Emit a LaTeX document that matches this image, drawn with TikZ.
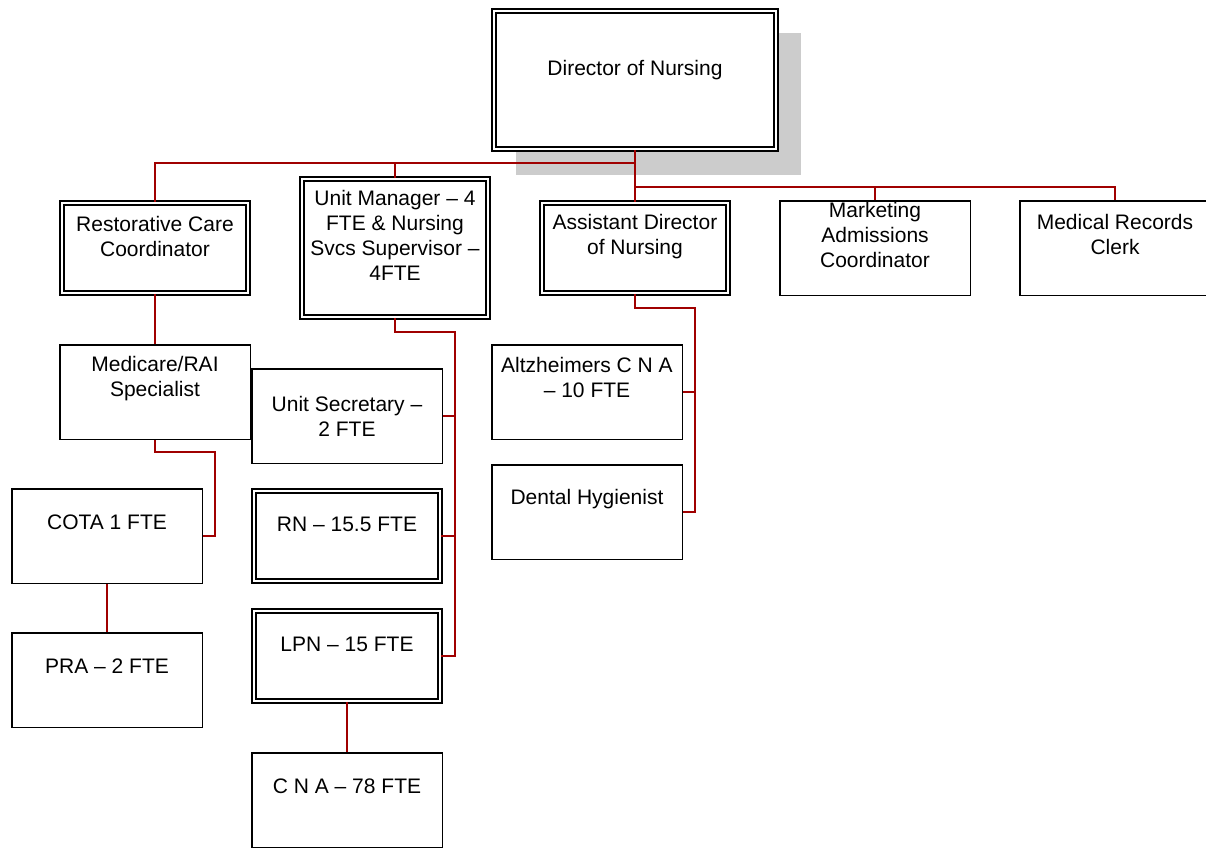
\documentclass[tikz,border=0pt]{standalone}
\usepackage{fontspec}
\setmainfont{Liberation Sans}
\usetikzlibrary{backgrounds}
\definecolor{linkred}{RGB}{160,0,0}
\definecolor{shadowgray}{RGB}{204,204,204}

\begin{document}
\begin{tikzpicture}[x=1pt,y=-1pt,
  every node/.style={font=\fontsize{21}{25}\selectfont},
  unit/.style={draw, line width=1.5pt, fill=white, inner sep=0pt,
    minimum width=190.5pt, minimum height=94.5pt},
  dunit/.style={unit, line width=1.7pt, double=white, double distance=2.6pt,
    minimum width=186pt, minimum height=90pt},
  txt/.style={align=center, inner sep=0pt},
  link/.style={draw=linkred, line width=1.5pt}]
\useasboundingbox (0,0) rectangle (1206,848);

% top level
\node[dunit, minimum width=282pt, minimum height=138pt] (dir) at (635,80) {};
\node[txt] (dirT) at ([yshift=-60pt]dir.north) {Director of Nursing};
\begin{scope}[on background layer]
\fill[shadowgray] ([shift={(23,23)}]dir.north west) rectangle ([shift={(24,25)}]dir.south east);
\end{scope}

% second row
\node[dunit] (rcc) at (155,248) {};
\node[txt] (rccT) at ([yshift=-34.5pt]rcc.north) {Restorative Care\\Coordinator};
\node[dunit, minimum height=138pt] (um) at (395,248) {};
\node[txt] (umT) at ([yshift=-57.5pt]um.north) {Unit Manager – 4\\FTE \& Nursing\\Svcs Supervisor –\\4FTE};
\node[dunit] (adn) at (635,248) {};
\node[txt] (adnT) at ([yshift=-34.5pt]adn.north) {Assistant Director\\of Nursing};
\node[unit] (mkt) at (875,248) {};
\node[txt] (mktT) at ([yshift=-34.5pt]mkt.north) {Marketing\\Admissions\\Coordinator};
\node[unit] (mrc) at (1115,248) {};
\node[txt] (mrcT) at ([yshift=-34.5pt]mrc.north) {Medical Records\\Clerk};

% restorative branch
\node[unit] (msp) at (155,392) {};
\node[txt] (mspT) at ([yshift=-34.5pt]msp.north) {Medicare/RAI\\Specialist};
\node[unit] (cota) at (107,536) {};
\node[txt] (cotaT) at ([yshift=-34pt]cota.north) {COTA 1 FTE};
\node[unit] (pra) at (107,680) {};
\node[txt] (praT) at ([yshift=-34pt]pra.north) {PRA – 2 FTE};

% unit manager branch
\node[unit] (usec) at (347,416) {};
\node[txt] (usecT) at (usec) {Unit Secretary –\\2 FTE};
\node[dunit] (rn) at (347,536) {};
\node[txt] (rnT) at ([yshift=-34pt]rn.north) {RN – 15.5 FTE};
\node[dunit] (lpn) at (347,656) {};
\node[txt] (lpnT) at ([yshift=-34pt]lpn.north) {LPN – 15 FTE};
\node[unit] (cna) at (347,800) {};
\node[txt] (cnaT) at ([yshift=-34pt]cna.north) {C N A – 78 FTE};

% assistant director branch
\node[unit] (alz) at (587,392) {};
\node[txt] (alzT) at ([yshift=-33.5pt]alz.north) {Altzheimers C N A\\– 10 FTE};
\node[unit] (dh) at (587,512) {};
\node[txt] (dhT) at ([yshift=-35pt]dh.north) {Dental Hygienist};

% connectors
\coordinate (busA) at (635,163);
\coordinate (busB) at (635,187);
\coordinate (umBus) at (455,332);
\coordinate (mspBus) at (215,452);
\coordinate (adnBus) at (695,308);
\draw[link] (dir.south) -- (adn.north);
\draw[link] (rcc.north) |- (busA);
\draw[link] (um.north) -- (um.north |- busA);
\draw[link] (busB) -| (mrc.north);
\draw[link] (mkt.north) -- (mkt.north |- busB);
\draw[link] (rcc.south) -- (msp.north);
\draw[link] (msp.south) |- (mspBus) |- (cota.east);
\draw[link] (cota.south) -- (pra.north);
\draw[link] (um.south) |- (umBus) |- (lpn.east);
\draw[link] (usec.east) -- (usec.east -| umBus);
\draw[link] (rn.east) -- (rn.east -| umBus);
\draw[link] (lpn.south) -- (cna.north);
\draw[link] (adn.south) |- (adnBus) |- (dh.east);
\draw[link] (alz.east) -- (alz.east -| adnBus);
\end{tikzpicture}
\end{document}
